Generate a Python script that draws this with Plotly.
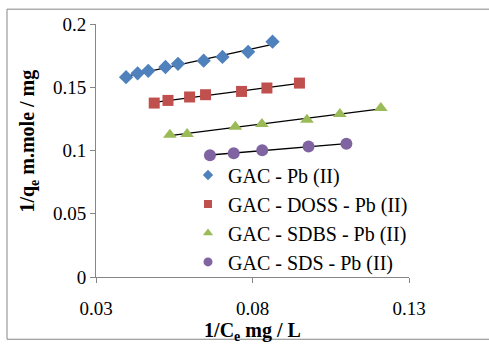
import numpy as np
import plotly.graph_objects as go

# ---- data ----
pb_x = [0.0396, 0.0433, 0.0467, 0.0522, 0.0562, 0.0644, 0.0704, 0.0786, 0.0864]
pb_y = [0.158, 0.161, 0.163, 0.166, 0.1685, 0.171, 0.174, 0.178, 0.186]

doss_x = [0.0486, 0.0530, 0.0599, 0.0650, 0.0765, 0.0846, 0.0950]
doss_y = [0.1375, 0.1396, 0.1423, 0.1441, 0.1467, 0.1494, 0.1533]

sdbs_x = [0.0536, 0.0591, 0.0745, 0.0830, 0.0974, 0.1079, 0.1210]
sdbs_y = [0.1124, 0.1131, 0.1187, 0.1210, 0.1244, 0.1289, 0.1336]

sds_x = [0.0664, 0.0740, 0.0831, 0.0979, 0.1100]
sds_y = [0.0963, 0.0979, 0.1002, 0.1031, 0.1053]

names = ["GAC - Pb (II)", "GAC - DOSS - Pb (II)", "GAC - SDBS - Pb (II)", "GAC - SDS - Pb (II)"]
colors = ["#4F81BD", "#C0504D", "#9BBB59", "#8064A2"]
symbols = ["diamond", "square", "triangle-up", "circle"]
sizes = [11, 11, 12, 12]
legend_sizes = [8, 8, 9, 9]

x_ticks = [0.03, 0.08, 0.13]
y_ticks = [0, 0.05, 0.1, 0.15, 0.2]

x_title = "<b>1/C<sub>e</sub> mg / L</b>"
y_title = "<b>1/q<sub>e</sub> m.mole / mg</b>"

series = [(pb_x, pb_y), (doss_x, doss_y), (sdbs_x, sdbs_y), (sds_x, sds_y)]

fig = go.Figure()
for (xs, ys) in series:
    xs = np.array(xs); ys = np.array(ys)
    k, b = np.polyfit(xs, ys, 1)
    xl = np.array([xs.min(), xs.max()])
    fig.add_trace(go.Scatter(x=xl, y=k * xl + b, mode="lines",
                             line=dict(color="black", width=1.3),
                             showlegend=False, hoverinfo="skip"))
for (xs, ys), name, c, s, sz in zip(series, names, colors, symbols, sizes):
    fig.add_trace(go.Scatter(x=xs, y=ys, mode="markers", name=name, showlegend=False,
                             marker=dict(color=c, symbol=s, size=sz, line=dict(width=0))))
# legend entries with smaller symbols
for name, c, s, sz in zip(names, colors, symbols, legend_sizes):
    fig.add_trace(go.Scatter(x=[None], y=[None], mode="markers", name=name,
                             marker=dict(color=c, symbol=s, size=sz, line=dict(width=0))))

W, H = 489, 345
L, R, T, B = 96, 80, 24, 65
pw, ph = W - L - R, H - T - B

def px2paper_x(px):
    return (px - L) / pw

def px2paper_y(py):
    return (H - B - py) / ph

serif = "Liberation Serif"
fig.update_layout(
    width=W, height=H,
    margin=dict(l=L, r=R, t=T, b=B),
    paper_bgcolor="white", plot_bgcolor="white",
    font=dict(family=serif, color="black"),
    xaxis=dict(range=[0.03, 0.13], tickvals=x_ticks, ticktext=["0.03", "0.08", "0.13"],
               showgrid=False, zeroline=False, showline=True, linecolor="#868686", linewidth=1,
               ticks="outside", ticklen=5, tickcolor="#868686",
               tickfont=dict(size=19, family=serif), ticklabelstandoff=9,
               title=dict(text=x_title, font=dict(size=20, family=serif), standoff=0)),
    yaxis=dict(range=[0, 0.2], tickvals=y_ticks, ticktext=["0", "0.05", "0.1", "0.15", "0.2"],
               showgrid=False, zeroline=False, showline=True, linecolor="#868686", linewidth=1,
               ticks="outside", ticklen=5, tickcolor="#868686",
               tickfont=dict(size=19, family=serif)),
    legend=dict(x=px2paper_x(188), y=px2paper_y(157), xanchor="left", yanchor="top",
                bgcolor="rgba(0,0,0,0)", font=dict(size=20, family=serif),
                tracegroupgap=0, itemwidth=30),
    annotations=[dict(text=y_title, textangle=-90, xref="paper", yref="paper",
                      x=px2paper_x(29), y=px2paper_y(143), xanchor="center", yanchor="middle",
                      showarrow=False, font=dict(size=20, family=serif))],
    shapes=[dict(type="rect", xref="paper", yref="paper",
                 x0=px2paper_x(7), x1=px2paper_x(520), y0=px2paper_y(343), y1=px2paper_y(9),
                 line=dict(color="#868686", width=1), fillcolor="rgba(0,0,0,0)", layer="below")],
)

fig.write_html("out.html")
